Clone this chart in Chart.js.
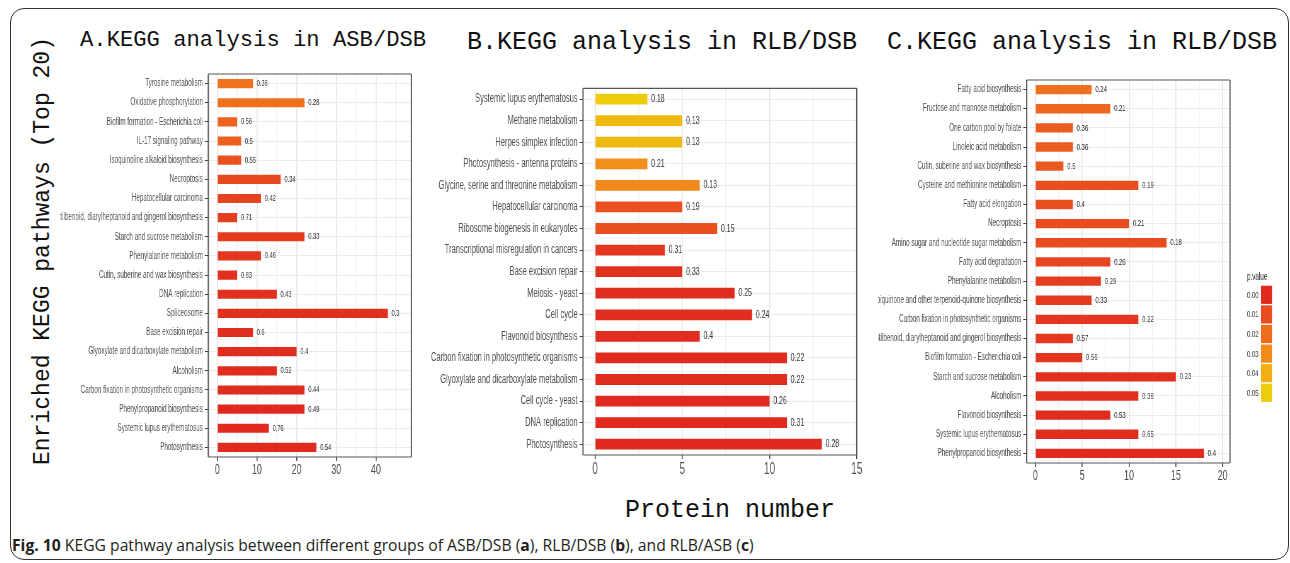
<!DOCTYPE html>
<html>
<head>
<meta charset="utf-8">
<title>KEGG pathway analysis</title>
<script src="https://cdn.jsdelivr.net/npm/chart.js@4.4.1/dist/chart.umd.min.js"></script>
<style>
  html,body{margin:0;padding:0;background:#fff;width:1290px;height:563px;overflow:hidden;position:relative}
  #frame{position:absolute;left:10px;top:8px;width:1279px;height:552px;border:1.5px solid #333;border-radius:14px;box-sizing:border-box}
  .ttl{position:absolute;font-family:"Liberation Mono","DejaVu Sans Mono",monospace;color:#111;white-space:nowrap;line-height:1}
  #ylab{left:43px;top:251px;font-size:23px;transform:translate(-50%,-50%) rotate(-90deg)}
  #cap{position:absolute;left:12px;top:538px;font-family:"Open Sans","Noto Sans",sans-serif;font-size:15.7px;line-height:1;color:#231f20;white-space:nowrap}
  canvas{position:absolute;transform-origin:0 0}
</style>
</head>
<body>
<div id="frame"></div>
<div class="ttl" style="left:80px;top:30px;font-size:22.2px">A.KEGG analysis in ASB/DSB</div>
<div class="ttl" style="left:467px;top:30px;font-size:25px">B.KEGG analysis in RLB/DSB</div>
<div class="ttl" style="left:887px;top:30px;font-size:25px">C.KEGG analysis in RLB/DSB</div>
<div class="ttl" id="ylab">Enriched KEGG pathways (Top 20)</div>
<div class="ttl" style="left:625px;top:498px;font-size:25px">Protein number</div>
<div id="cap"><b>Fig. 10</b> KEGG pathway analysis between different groups of ASB/DSB (<b>a</b>), RLB/DSB (<b>b</b>), and RLB/ASB (<b>c</b>)</div>

<script>
// ─ Data: A. ASB/DSB ─
const aPaths = ['Tyrosine metabolism','Oxidative phosphorylation','Biofilm formation - Escherichia coli','IL-17 signaling pathway',
  'Isoquinoline alkaloid biosynthesis','Necroptosis','Hepatocellular carcinoma','Stilbenoid, diarylheptanoid and gingerol biosynthesis',
  'Starch and sucrose metabolism','Phenylalanine metabolism','Cutin, suberine and wax biosynthesis','DNA replication','Spliceosome',
  'Base excision repair','Glyoxylate and dicarboxylate metabolism','Alcoholism','Carbon fixation in photosynthetic organisms',
  'Phenylpropanoid biosynthesis','Systemic lupus erythematosus','Photosynthesis'];
const aCounts = [9,22,5,6,6,16,11,5,22,11,5,15,43,9,20,15,22,22,13,25];
const aNums   = ['0.38','0.28','0.56','0.5','0.55','0.34','0.42','0.71','0.33','0.46','0.83','0.43','0.3','0.6','0.4','0.52','0.44','0.49','0.76','0.54'];
const aPvals  = [0.022,0.021,0.017,0.016,0.012,0.009,0.007,0.006,0.005,0.004,0.002,0.002,0.002,0.001,0.001,0.001,0.0005,0.0003,0.0002,0.0001];

// ─ Data: B. RLB/DSB ─
const bPaths = ['Systemic lupus erythematosus','Methane metabolism','Herpes simplex infection','Photosynthesis - antenna proteins',
  'Glycine, serine and threonine metabolism','Hepatocellular carcinoma','Ribosome biogenesis in eukaryotes',
  'Transcriptional misregulation in cancers','Base excision repair','Meiosis - yeast','Cell cycle','Flavonoid biosynthesis',
  'Carbon fixation in photosynthetic organisms','Glyoxylate and dicarboxylate metabolism','Cell cycle - yeast','DNA replication','Photosynthesis'];
const bCounts = [3,5,5,3,6,5,7,4,5,8,9,6,11,11,10,11,13];
const bNums   = ['0.18','0.13','0.13','0.21','0.13','0.19','0.15','0.31','0.33','0.25','0.24','0.4','0.22','0.22','0.26','0.31','0.28'];
const bPvals  = [0.05,0.044,0.044,0.031,0.029,0.011,0.011,0.004,0.002,0.001,0.001,0.001,0.0005,0.0005,0.0003,0.0002,0.0001];

// ─ Data: C. RLB/ASB ─
const cPaths = ['Fatty acid biosynthesis','Fructose and mannose metabolism','One carbon pool by folate','Linoleic acid metabolism',
  'Cutin, suberine and wax biosynthesis','Cysteine and methionine metabolism','Fatty acid elongation','Necroptosis',
  'Amino sugar and nucleotide sugar metabolism','Fatty acid degradation','Phenylalanine metabolism',
  'Ubiquinone and other terpenoid-quinone biosynthesis','Carbon fixation in photosynthetic organisms',
  'Stilbenoid, diarylheptanoid and gingerol biosynthesis','Biofilm formation - Escherichia coli','Starch and sucrose metabolism',
  'Alcoholism','Flavonoid biosynthesis','Systemic lupus erythematosus','Phenylpropanoid biosynthesis'];
const cCounts = [6,8,4,4,3,11,4,10,14,8,7,6,11,4,5,15,11,8,11,18];
const cNums   = ['0.24','0.21','0.36','0.36','0.5','0.19','0.4','0.21','0.18','0.26','0.29','0.33','0.22','0.57','0.56','0.23','0.38','0.53','0.65','0.4'];
const cPvals  = [0.021,0.018,0.015,0.015,0.014,0.011,0.011,0.01,0.01,0.008,0.006,0.005,0.004,0.004,0.003,0.002,0.002,0.001,0.001,0];

// ─ Axis ticks & legend ─
const aTicks = [0,10,20,30,40];
const bTicks = [0,5,10,15];
const cTicks = [0,5,10,15,20];
const legendP   = [0,0.01,0.02,0.03,0.04,0.05];
const legendTxt = ['0.00','0.01','0.02','0.03','0.04','0.05'];

// ─ Look ─
const S = 0.63;   // horizontal squeeze of the panels
const FAM = '"Liberation Sans", Arial, sans-serif';
const STOPS = [[224,41,31],[232,76,31],[238,108,30],[241,140,27],[240,174,19],[237,205,11]];

function pColor(p) {
  const t = Math.min(Math.max(p / 0.05, 0), 1) * 5;
  const i = Math.min(Math.floor(t), 4), f = t - i;
  const c = STOPS[i].map((v, k) => Math.round(v + (STOPS[i+1][k] - v) * f));
  return `rgb(${c.join(',')})`;
}

// ─ Value labels, panel border, legend ─
const panelPlugin = {
  id: 'panel',
  afterDatasetsDraw(chart, args, o) {
    const {ctx, chartArea: a} = chart;
    ctx.save();
    ctx.font = `${o.numSize}px ${FAM}`;
    ctx.fillStyle = '#333';
    ctx.textAlign = 'left';
    ctx.textBaseline = 'middle';
    chart.getDatasetMeta(0).data.forEach((bar, i) => ctx.fillText(o.nums[i], bar.x + 6, bar.y));

    ctx.strokeStyle = '#555';
    ctx.lineWidth = 1.2;
    ctx.beginPath();
    ctx.moveTo(a.left, a.top); ctx.lineTo(a.right, a.top);
    ctx.moveTo(a.left, a.bottom); ctx.lineTo(a.right, a.bottom);
    ctx.stroke();
    ctx.lineWidth = 1.2 / S;
    ctx.beginPath();
    ctx.moveTo(a.left, a.top); ctx.lineTo(a.left, a.bottom);
    ctx.moveTo(a.right, a.top); ctx.lineTo(a.right, a.bottom);
    ctx.stroke();

    if (o.legend) {
      const lx = v => (v - o.x0) / S;
      ctx.font = `10px ${FAM}`;
      ctx.fillStyle = '#333';
      ctx.textAlign = 'left';
      ctx.fillText('p.value', lx(1247), 212);
      ctx.font = `9.5px ${FAM}`;
      ctx.textAlign = 'right';
      legendP.forEach((p, i) => {
        const top = 220.7 + i * 19.6;
        ctx.fillStyle = pColor(p);
        ctx.fillRect(lx(1261), top, lx(1272) - lx(1261), 18.2);
        ctx.fillStyle = '#4d4d4d';
        ctx.fillText(legendTxt[i], lx(1258.5), top + 9.5);
      });
    }
    ctx.restore();
  }
};

function makePanel(p) {
  const cv = document.createElement('canvas');
  const xAxisH = 24;
  cv.width = Math.round(p.w / S);
  cv.height = Math.round(p.plotB - p.y + xAxisH);
  cv.style.left = p.x + 'px';
  cv.style.top = p.y + 'px';
  cv.style.transform = `scaleX(${S})`;
  document.body.appendChild(cv);

  const step = p.ticks[1] - p.ticks[0];
  const grid = [];
  for (let v = p.ticks[0]; v <= p.max + 1e-9; v += step / 2) grid.push(v);
  const major = v => p.ticks.includes(v);

  return new Chart(cv, {
    type: 'bar',
    data: {
      labels: p.labels,
      datasets: [{ data: p.values, backgroundColor: p.pvals.map(pColor), categoryPercentage: 1, barPercentage: p.bar }]
    },
    options: {
      indexAxis: 'y',
      responsive: false,
      animation: false,
      devicePixelRatio: 1,
      layout: { padding: { left: 0, top: p.plotT - p.y, right: (p.x + p.w - p.plotR) / S, bottom: 0 } },
      plugins: {
        legend: { display: false },
        tooltip: { enabled: false },
        panel: { nums: p.nums, numSize: p.numSize, legend: !!p.legend, x0: p.x }
      },
      scales: {
        x: {
          type: 'linear', min: p.min, max: p.max,
          afterBuildTicks: s => { s.ticks = grid.map(v => ({ value: v })); },
          afterFit: s => { s.height = xAxisH; },
          border: { display: false },
          grid: {
            color: c => major(c.tick.value) ? '#e4e4e4' : '#f2f2f2',
            lineWidth: 1 / S,
            tickColor: c => major(c.tick.value) ? '#444' : 'rgba(0,0,0,0)',
            tickLength: 4,
            tickWidth: 1 / S
          },
          ticks: {
            autoSkip: false, maxRotation: 0, padding: 1,
            color: '#4d4d4d', font: { size: p.xFont, family: FAM },
            callback: v => major(v) ? String(v) : ''
          }
        },
        y: {
          type: 'category', offset: true,
          afterFit: s => { s.width = (p.plotL - p.x) / S; },
          border: { display: false },
          grid: { offset: false, color: '#ebebeb', lineWidth: 1, tickColor: '#444', tickLength: 3.5 / S, tickWidth: 1 },
          ticks: { autoSkip: false, padding: 3, color: '#4d4d4d', font: { size: p.yFont, family: FAM } }
        }
      }
    },
    plugins: [panelPlugin]
  });
}

makePanel({ x: 60, y: 60, w: 360, plotL: 208.3, plotR: 411.7, plotT: 74, plotB: 456.7, min: -2.27, max: 48.97,
  ticks: aTicks, labels: aPaths, values: aCounts, pvals: aPvals, nums: aNums, yFont: 10, xFont: 14, numSize: 9, bar: 0.48 });
makePanel({ x: 424, y: 75, w: 446, plotL: 583, plotR: 856.7, plotT: 88.3, plotB: 455, min: -0.69, max: 15,
  ticks: bTicks, labels: bPaths, values: bCounts, pvals: bPvals, nums: bNums, yFont: 12, xFont: 16, numSize: 11, bar: 0.5 });
makePanel({ x: 878, y: 65, w: 407, plotL: 1026.7, plotR: 1230, plotT: 80, plotB: 462.7, min: -0.92, max: 20.78,
  ticks: cTicks, labels: cPaths, values: cCounts, pvals: cPvals, nums: cNums, yFont: 10, xFont: 14, numSize: 9.5, bar: 0.49, legend: true });
</script>
</body>
</html>
